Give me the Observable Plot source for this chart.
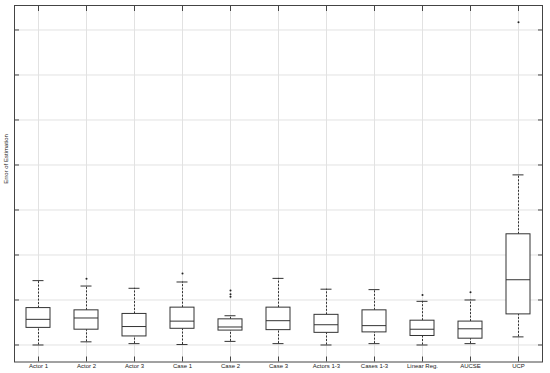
<!DOCTYPE html>
<html><head><meta charset="utf-8">
<script src="https://cdn.jsdelivr.net/npm/d3@7"></script>
<script src="https://cdn.jsdelivr.net/npm/@observablehq/plot@0.6"></script>
<style>body{margin:0;background:#fff}</style>
</head><body><div id="chart"></div>
<script>
const categories = ["Actor 1","Actor 2","Actor 3","Case 1","Case 2","Case 3","Actors 1-3","Cases 1-3","Linear Reg.","AUCSE","UCP"];
const lowerWhisker = [0.00,0.07,0.03,0.01,0.08,0.03,0.00,0.03,0.00,0.03,0.18];
const q1 =           [0.38,0.34,0.19,0.36,0.32,0.33,0.27,0.28,0.20,0.14,0.68];
const median =       [0.57,0.60,0.41,0.53,0.40,0.54,0.45,0.43,0.35,0.36,1.45];
const q3 =           [0.82,0.77,0.69,0.83,0.57,0.83,0.67,0.77,0.54,0.52,2.46];
const upperWhisker = [1.43,1.31,1.26,1.40,0.65,1.48,1.24,1.23,0.97,1.00,3.78];
const outlierCategory = ["Actor 2","Case 1","Case 2","Case 2","Case 2","Linear Reg.","AUCSE","UCP"];
const outlierValue =    [1.47,1.59,1.21,1.13,1.07,1.11,1.17,7.17];
const yTicks = [0,1,2,3,4,5,6,7];
const yLabel = "Error of Estimation";

const boxes = categories.map((c,i)=>({category:c, lo:lowerWhisker[i], q1:q1[i], med:median[i], q3:q3[i], hi:upperWhisker[i]}));
const outliers = outlierCategory.map((c,i)=>({category:c, value:outlierValue[i]}));
const ink = "#333";
const chart = Plot.plot({
  width:550, height:373, marginLeft:14, marginRight:8, marginTop:5, marginBottom:11.5,
  style:{fontFamily:"'Liberation Sans', Arial, sans-serif", fontSize:"6px", color:"#222", background:"#fff"},
  x:{type:"band", domain:categories, paddingInner:0.5, paddingOuter:0.25, label:null, axis:null},
  y:{domain:[-0.378,7.544], axis:null, label:null},
  marks:[
    Plot.ruleX(categories, {x:d=>d, stroke:"#e2e2e2"}),
    Plot.ruleY(yTicks, {y:d=>d, stroke:"#e2e2e2"}),
    Plot.ruleX(boxes, {x:"category", y1:"lo", y2:"q1", stroke:ink, strokeDasharray:"2,1.5"}),
    Plot.ruleX(boxes, {x:"category", y1:"q3", y2:"hi", stroke:ink, strokeDasharray:"2,1.5"}),
    Plot.barY(boxes, {x:"category", y1:"q1", y2:"q3", fill:"white", stroke:ink}),
    Plot.tickY(boxes, {x:"category", y:"med", stroke:ink}),
    Plot.tickY(boxes, {x:"category", y:"lo", stroke:ink, insetLeft:6.5, insetRight:6.5}),
    Plot.tickY(boxes, {x:"category", y:"hi", stroke:ink, insetLeft:6.5, insetRight:6.5}),
    Plot.dot(outliers, {x:"category", y:"value", r:1, fill:"#222", stroke:null}),
    Plot.frame({stroke:"#444"}),
    Plot.axisX({anchor:"bottom", tickSize:-5, tickPadding:7, stroke:"#444", fill:"#222", label:null}),
    Plot.axisX({anchor:"top", tickSize:-5, tickFormat:()=>"", stroke:"#444", label:null}),
    Plot.axisY(yTicks, {anchor:"left", tickSize:-5, tickFormat:()=>"", stroke:"#444", label:null}),
    Plot.axisY(yTicks, {anchor:"right", tickSize:-5, tickFormat:()=>"", stroke:"#444", label:null}),
    Plot.text([yLabel], {text:d=>d, frameAnchor:"left", rotate:-90, dx:-8, fontSize:6, fill:"#222"})
  ]
});
document.getElementById("chart").appendChild(chart);
</script>
</body></html>
